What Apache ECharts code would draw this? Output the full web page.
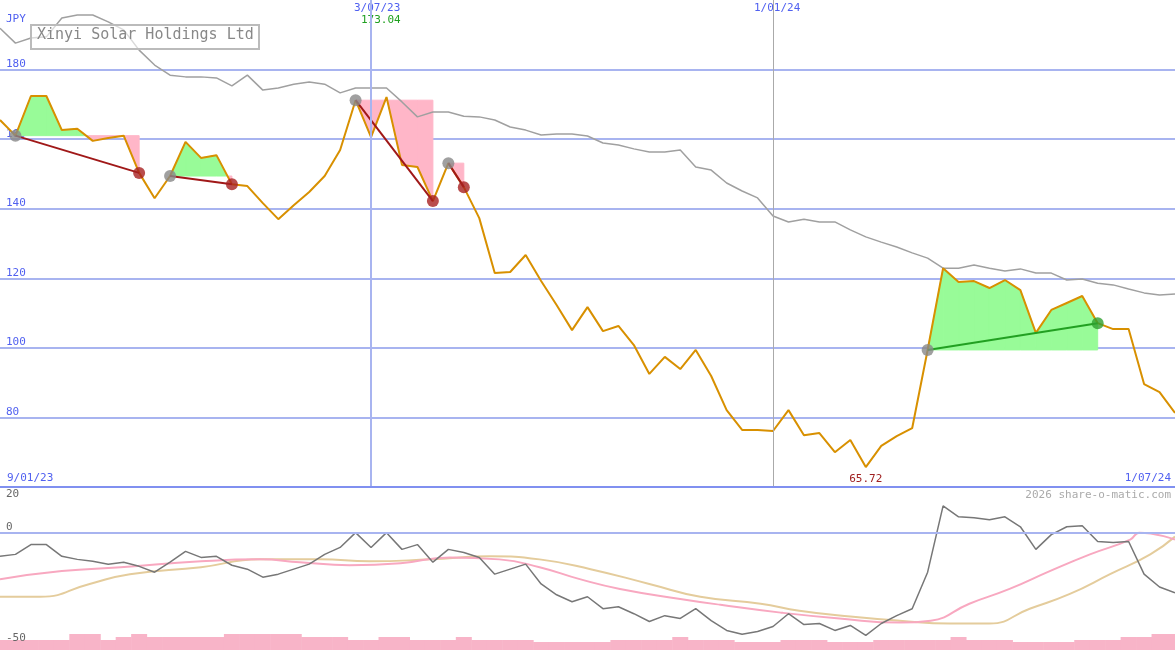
<!DOCTYPE html>
<html><head><meta charset="utf-8">
<script src="https://cdn.jsdelivr.net/npm/echarts@6/dist/echarts.min.js"></script>
<style>html,body{margin:0;padding:0;background:#fff}#c{width:1175px;height:650px}</style>
</head><body><div id="c"></div>
<script>
// weeks: 1 = 16/01/23 ... 77 = 1/07/24
const price = [165.5,161,172.4,172.4,162.6,163,159.5,160.3,161,150.3,143,149.4,159.2,154.6,155.4,147,146.5,141.6,137,141,144.8,149.4,156.9,171.2,160.6,172.1,152.6,152,142.2,153.1,146.2,137.3,121.5,121.8,126.7,119.2,112.3,105.1,111.7,104.8,106.3,100.8,92.5,97.4,93.9,99.4,91.9,82.1,76.4,76.4,76.1,82.1,74.9,75.5,70,73.5,65.72,71.8,74.6,76.9,99.4,122.9,118.9,119.2,117.2,119.5,116.6,104.3,110.9,112.9,114.9,107.1,105.4,105.4,89.6,87.3,81.3];
const relative = [191.9,187.6,189.1,189.4,194.8,195.7,195.7,193.7,191.4,185.6,181.3,178.4,177.9,177.9,177.6,175.3,178.4,174.1,174.7,175.8,176.4,175.8,173.3,174.7,174.7,174.7,170.7,166.4,167.8,167.8,166.6,166.4,165.5,163.5,162.6,161.2,161.5,161.5,160.9,158.9,158.3,157.2,156.3,156.3,156.9,152,151.1,147.4,145.1,143.1,137.9,136.2,137,136.2,136.2,133.9,131.9,130.4,129,127.3,125.8,122.9,122.9,123.8,122.9,122.1,122.7,121.5,121.5,119.5,119.8,118.6,118.1,116.9,115.8,115.2,115.5];
const osc = [-10.9,-10,-5.5,-5.5,-10.9,-12.3,-13.2,-14.5,-13.6,-15.5,-18.2,-13.6,-8.6,-11.4,-10.9,-15,-16.8,-20.5,-19.1,-16.8,-14.5,-10,-6.8,0,-6.8,0,-7.7,-5.5,-13.6,-7.7,-9.1,-11.4,-19.1,-16.8,-14.5,-23.6,-28.6,-31.8,-29.5,-35,-34.1,-37.3,-40.9,-38.2,-39.5,-35,-40.5,-45,-46.8,-45.5,-43.2,-37.3,-42.3,-41.8,-45,-42.7,-47.3,-41.8,-38.2,-35,-18.2,12.3,7.3,6.8,5.9,7.3,2.7,-7.7,-0.9,2.7,3.2,-4.1,-4.5,-4.1,-19.1,-25,-27.7];
const maFast = [[1,-21.4],[5,-17.7],[8.8,-15.9],[14,-13.2],[17.8,-12.3],[20.4,-13.6],[23.6,-15],[26.9,-14.1],[30.1,-11.4],[33.3,-12.3],[35.9,-15.9],[38.5,-21.4],[41.1,-25.9],[45,-30.5],[47.6,-33.2],[51.5,-36.8],[55.3,-39.5],[59.2,-41.4],[61.2,-40.5],[63.7,-32.7],[66.3,-25.9],[68.9,-17.7],[71.5,-10],[74.1,-3.2],[74.7,0],[77,-3.2]];
const maSlow = [[1,-29.5],[3.6,-29.5],[6.8,-23.6],[9.4,-19.1],[14,-15.9],[17.8,-12.3],[21.7,-12.3],[24.9,-13.2],[28.8,-12.3],[32.7,-10.9],[35.9,-12.3],[39.2,-16.8],[43,-23.6],[46.3,-29.5],[50.2,-32.7],[52.7,-35.9],[56,-38.6],[59.2,-40.5],[62.4,-41.8],[65,-41.8],[67.6,-35],[70.2,-28.2],[72.8,-19.1],[75.4,-10],[77,-1.8]];
const volume = [10,10,10,10,10,16,16,10,13,16,13,13,13,13,13,16,16,16,16,16,13,13,13,10,10,13,13,10,10,10,13,10,10,10,10,8,8,8,8,8,10,10,10,10,13,10,10,10,8,8,8,10,10,10,8,8,8,10,10,10,10,10,13,10,10,10,8,8,8,8,10,10,10,13,13,16,16];
const trades = [[2,10],[12,16],[24,29],[30,31],[61,72]]; // entry week, exit week
const priceTicks = [80,100,120,140,160,180];
const oscTicks = [20,0,-50];
const dateMarks = [[25,'3/07/23'],[51,'1/01/24']];

const F = 'DejaVu Sans Mono, monospace';
const chart = echarts.init(document.getElementById('c'));
const pts = price.map((v,i)=>[i+1,v]);
const grids = [
  {left:0,right:0,top:0,height:487},
  {left:0,right:0,top:487,height:163},
  {left:0,right:0,top:620,height:30}
];
const xa = i => ({type:'value',gridIndex:i,min:1,max:77,show:false});
function fillItem(params, api){
  const t = trades[params.dataIndex];
  const lvl = price[t[0]-1];
  const kids = [];
  for(let w=t[0]; w<t[1]; w++){
    const a = price[w-1]-lvl, b = price[w]-lvl;
    const col = v => v>=0 ? '#98fb98' : '#ffb6c8';
    const poly = (pp, c)=>kids.push({type:'polygon',shape:{points:pp.map(p=>api.coord(p))},style:{fill:c,stroke:c,lineWidth:1}});
    if(a*b>=0){
      poly([[w,lvl],[w,price[w-1]],[w+1,price[w]],[w+1,lvl]], col(a+b));
    } else {
      const xc = w + a/(a-b);
      poly([[w,lvl],[w,price[w-1]],[xc,lvl]], col(a));
      poly([[xc,lvl],[w+1,price[w]],[w+1,lvl]], col(b));
    }
  }
  return {type:'group',children:kids};
}
const tradeLines = trades.map(t=>({
  type:'line',xAxisIndex:0,yAxisIndex:0,symbol:'none',silent:true,z:4,
  lineStyle:{width:2,color: price[t[1]-1]>price[t[0]-1] ? '#22a022' : '#a01818'},
  data:[[t[0],price[t[0]-1]],[t[1],price[t[1]-1]]]
}));
// label anchor positions for the lower panel (text shows oscTicks)
const oscAnchors = [15,0,-51];
chart.setOption({
  animation:false,
  grid:grids,
  xAxis:[xa(0),xa(1),xa(2)],
  yAxis:[
    {type:'value',gridIndex:0,min:60,max:200,interval:20,axisLine:{show:false},axisTick:{show:false},
     splitLine:{showMaxLine:false,lineStyle:{color:'#a8b4f0',width:2}},
     axisLabel:{inside:true,verticalAlign:'bottom',margin:6,color:'#5060f0',fontFamily:F,fontSize:11,
       formatter:v=>priceTicks.includes(v)?String(v):''}},
    {type:'value',gridIndex:1,min:-54,max:21,z:20,axisLine:{show:false},axisTick:{show:false},splitLine:{show:false},
     axisLabel:{inside:true,verticalAlign:'bottom',margin:6,color:'#666',fontFamily:F,fontSize:11,customValues:oscAnchors,
       formatter:v=>String(oscTicks[oscAnchors.indexOf(v)])}},
    {type:'value',gridIndex:2,min:0,max:30,show:false}
  ],
  series:[
    {type:'bar',xAxisIndex:2,yAxisIndex:2,data:volume.map((v,i)=>[i+1,v]),barWidth:16,itemStyle:{color:'#f8b4c8'},silent:true,z:1},
    {type:'custom',xAxisIndex:0,yAxisIndex:0,renderItem:fillItem,data:trades,silent:true,z:2},
    {type:'line',xAxisIndex:0,yAxisIndex:0,data:relative.map((v,i)=>[i+1,v]),symbol:'none',lineStyle:{color:'#a0a0a0',width:1.5},z:2,silent:true,
     markLine:{symbol:'none',silent:true,label:{show:false},data:[
       {xAxis:dateMarks[0][0],lineStyle:{color:'#a8b4f0',width:2,type:'solid'}},
       {xAxis:dateMarks[1][0],lineStyle:{color:'#aaa',width:1,type:'solid'}},
       {yAxis:60,lineStyle:{color:'#8090f0',width:2,type:'solid'}}]}},
    {type:'line',xAxisIndex:0,yAxisIndex:0,data:pts,symbol:'none',lineStyle:{color:'#d89000',width:2},z:3,silent:true,
     markPoint:{symbol:'circle',symbolSize:1,itemStyle:{color:'transparent'},data:[
       {coord:[57,65.72],label:{show:true,position:'bottom',distance:6,formatter:'65.72',color:'#a02020',fontFamily:F,fontSize:11}}]}},
    ...tradeLines,
    {type:'scatter',xAxisIndex:0,yAxisIndex:0,z:5,symbolSize:12,itemStyle:{color:'#888'},data:trades.map(t=>[t[0],price[t[0]-1]])},
    {type:'scatter',xAxisIndex:0,yAxisIndex:0,z:5,symbolSize:12,
     data:trades.map(t=>({value:[t[1],price[t[1]-1]],itemStyle:{color:price[t[1]-1]>price[t[0]-1]?'#30a030':'#a82020'}}))},
    {type:'line',xAxisIndex:1,yAxisIndex:1,data:maSlow,smooth:true,symbol:'none',lineStyle:{color:'#e4cc9c',width:2},silent:true},
    {type:'line',xAxisIndex:1,yAxisIndex:1,data:maFast,smooth:true,symbol:'none',lineStyle:{color:'#f8a8c0',width:2},silent:true},
    {type:'line',xAxisIndex:1,yAxisIndex:1,data:osc.map((v,i)=>[i+1,v]),symbol:'none',lineStyle:{color:'#777',width:1.5},silent:true,
     markLine:{symbol:'none',silent:true,label:{show:false},data:[{yAxis:0,lineStyle:{color:'#a8b4f0',width:2,type:'solid'}}]}}
  ],
  graphic:[
    {type:'rect',left:30,top:24,shape:{width:228,height:24},style:{fill:'rgba(255,255,255,0.6)',stroke:'#bbb',lineWidth:2},z:10},
    {type:'text',left:37,top:28,style:{text:'Xinyi Solar Holdings Ltd',font:'15px '+F,fill:'#888'},z:11},
    {type:'text',left:6,top:14,style:{text:'JPY',font:'11px '+F,fill:'#5060f0'}},
    {type:'text',left:354,top:3,style:{text:dateMarks[0][1],font:'11px '+F,fill:'#5060f0'}},
    {type:'text',left:361,top:15,style:{text:'173.04',font:'11px '+F,fill:'#20a020'}},
    {type:'text',left:754,top:3,style:{text:dateMarks[1][1],font:'11px '+F,fill:'#5060f0'}},
    {type:'text',left:7,top:473,style:{text:'9/01/23',font:'11px '+F,fill:'#5060f0'}},
    {type:'text',right:4,top:473,style:{text:'1/07/24',font:'11px '+F,fill:'#5060f0'}},
    {type:'text',right:4,top:490,style:{text:'2026 share-o-matic.com',font:'11px '+F,fill:'#aaa'}}
  ]
});
</script></body></html>
